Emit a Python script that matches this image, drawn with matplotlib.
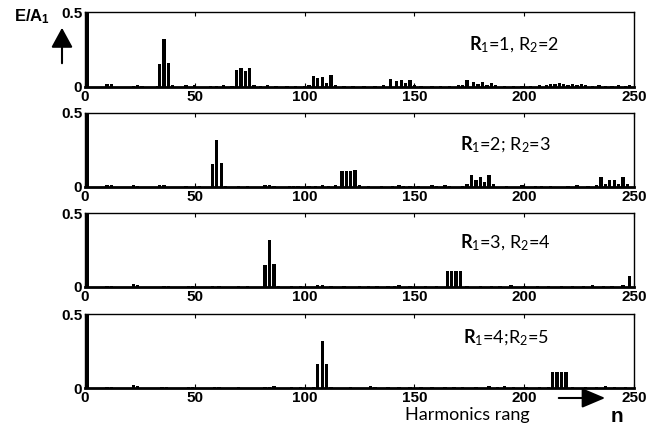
import matplotlib
matplotlib.use("Agg")
from matplotlib import pyplot as plt
from matplotlib.patches import FancyArrowPatch

# harmonic spectra E/A1 for four (R1, R2) pairs
p1_n = [1, 10, 12, 22, 24, 26, 33, 34, 36, 38, 40, 46, 50, 57, 60, 63, 67,
        69, 71, 73, 75, 77, 80, 83, 87, 92, 96, 100, 102, 104, 106, 108, 110,
        112, 114, 118, 122, 127, 132, 136, 139, 142, 144, 146, 148, 150, 153,
        158, 162, 166, 170, 172, 174, 177, 179, 181, 183, 185, 187, 191, 195,
        199, 203, 207, 210, 212, 214, 216, 218, 220, 222, 224, 226, 228, 231,
        234, 237, 240, 243, 246, 248]
p1_e = [0.5, 0.02, 0.02, 0.01, 0.012, 0.008, 0.01, 0.155, 0.32, 0.16, 0.012,
        0.015, 0.015, 0.008, 0.01, 0.012, 0.01,
        0.113, 0.125, 0.107, 0.125, 0.015, 0.01, 0.012, 0.01, 0.01, 0.008,
        0.01, 0.012, 0.075, 0.06, 0.065, 0.03, 0.08, 0.015, 0.01, 0.008, 0.01,
        0.01, 0.015, 0.055, 0.04, 0.045, 0.03, 0.05, 0.015, 0.01,
        0.008, 0.01, 0.008, 0.012, 0.015, 0.05, 0.035, 0.02, 0.035, 0.015,
        0.03, 0.012, 0.01, 0.008, 0.01, 0.008, 0.012, 0.015, 0.02, 0.02, 0.025,
        0.02, 0.015, 0.02, 0.015, 0.02, 0.012, 0.01, 0.012, 0.008, 0.01,
        0.012, 0.01, 0.015]

p2_n = [1, 10, 12, 22, 24, 34, 36, 46, 52, 58, 60, 62, 64, 70, 74, 82, 84,
        86, 93, 95, 97, 102, 105, 108, 111, 114, 117, 119, 121, 123, 125, 129,
        135, 140, 143, 145, 148, 152, 158, 160, 164, 166, 172, 174, 176, 178,
        180, 182, 184, 186, 192, 199, 205, 208, 212, 220, 224, 229, 233, 235,
        237, 239, 241, 243, 245, 247]
p2_e = [0.5, 0.012, 0.012, 0.012, 0.01, 0.012, 0.012, 0.01, 0.008, 0.157,
        0.32, 0.165, 0.01, 0.008, 0.008, 0.012, 0.012,
        0.01, 0.008, 0.008, 0.008, 0.01, 0.01, 0.012, 0.01, 0.015, 0.11, 0.11,
        0.105, 0.115, 0.012, 0.008, 0.01, 0.008, 0.012, 0.01, 0.01, 0.008,
        0.012, 0.01, 0.012, 0.008, 0.01, 0.02, 0.08, 0.045, 0.068, 0.036,
        0.08, 0.02, 0.008, 0.012, 0.008, 0.01, 0.008, 0.01, 0.012, 0.008,
        0.015, 0.068, 0.02, 0.045, 0.045, 0.02, 0.068, 0.02]

p3_n = [1, 10, 12, 22, 24, 36, 38, 47, 49, 58, 61, 70, 74, 82, 84, 86, 88,
        94, 98, 106, 108, 112, 118, 125, 129, 133, 138, 141, 143, 148, 155,
        160, 165, 167, 169, 171, 174, 180, 185, 189, 194, 200, 206, 211, 217,
        222, 227, 231, 236, 240, 245, 248]
p3_e = [0.5, 0.01, 0.01, 0.02, 0.015, 0.01, 0.01, 0.008, 0.01, 0.008, 0.01,
        0.008, 0.008, 0.15, 0.315, 0.157, 0.01,
        0.008, 0.008, 0.012, 0.015, 0.008, 0.01, 0.008, 0.01, 0.01, 0.008,
        0.01, 0.012, 0.008, 0.008, 0.01, 0.105, 0.105, 0.105, 0.105, 0.01,
        0.008, 0.01, 0.01, 0.012, 0.008, 0.01, 0.01, 0.008, 0.008, 0.01,
        0.012, 0.008, 0.01, 0.015, 0.072]

p4_n = [1, 10, 12, 22, 24, 35, 37, 47, 49, 59, 61, 70, 82, 84, 86, 94, 98,
        104, 106, 108, 110, 112, 121, 130, 132, 138, 143, 148, 153, 158, 164,
        168, 172, 178, 184, 188, 191, 195, 201, 207, 211, 213, 215, 217, 219,
        222, 228, 233, 237, 241, 246]
p4_e = [0.5, 0.01, 0.01, 0.02, 0.015, 0.01, 0.01, 0.008, 0.01, 0.01, 0.01,
        0.008, 0.01, 0.01, 0.015, 0.008, 0.008,
        0.01, 0.16, 0.315, 0.16, 0.01, 0.008, 0.012, 0.01, 0.008, 0.008, 0.01,
        0.008, 0.008, 0.01, 0.01, 0.008, 0.01, 0.012, 0.01, 0.012, 0.01,
        0.008, 0.01, 0.01, 0.105, 0.105, 0.105, 0.105, 0.01, 0.008, 0.01,
        0.012, 0.008, 0.01]

labels = [r"$\mathbf{R}_1$=1, R$_2$=2",
          r"$\mathbf{R}_1$=2; R$_2$=3",
          r"$\mathbf{R}_1$=3, R$_2$=4",
          r"$\mathbf{R}_1$=4;R$_2$=5"]
xticks = [0, 50, 100, 150, 200, 250]
yticks = [0, 0.5]
ytick_labels = ["0", "0.5"]

plt.rcParams['font.family'] = ['Liberation Sans', 'DejaVu Sans']
plt.rcParams['mathtext.fontset'] = 'custom'
plt.rcParams['mathtext.rm'] = 'Lato'
plt.rcParams['mathtext.bf'] = 'Lato:bold'
plt.rcParams['mathtext.it'] = 'Lato'

W, H = 661, 428
fig = plt.figure(figsize=(W / 100, H / 100), dpi=100)

# panel top/bottom pixel rows
rows = [(12, 87), (113, 187), (213, 287), (314, 388)]
label_pos = [(469, 45), (460, 145), (460, 243), (463, 338)]
spectra = [(p1_n, p1_e), (p2_n, p2_e), (p3_n, p3_e), (p4_n, p4_e)]

for (top, bot), (n, e), lab, (tx, ty) in zip(rows, spectra, labels, label_pos):
    ax = fig.add_axes([85 / W, 1 - bot / H, (634 - 85) / W, (bot - top) / H])
    ax.bar(n, e, width=1.5, color='black', align='center')
    ax.set_xlim(0, 250)
    ax.set_ylim(0, 0.5)
    ax.set_xticks(xticks)
    ax.set_yticks(yticks)
    ax.set_yticklabels(ytick_labels)
    ax.tick_params(direction='in', top=True, length=3, width=0.8,
                   labelsize=11, pad=2)
    for t in ax.get_xticklabels() + ax.get_yticklabels():
        t.set_fontweight('bold')
    for s in ax.spines.values():
        s.set_linewidth(1.0)
    ax.spines['bottom'].set_linewidth(2.0)
    fig.text(tx / W, 1 - ty / H, lab, fontsize=13, family='Lato',
             va='center', ha='left')

# y quantity with upward arrow
fig.text(14 / W, 1 - 17 / H, r"E/A$_\mathregular{1}$", fontsize=12,
         fontweight='bold', va='center', ha='left')
fig.add_artist(FancyArrowPatch(
    (62 / W, 1 - 66 / H), (62 / W, 1 - 25 / H), transform=fig.transFigure,
    arrowstyle='-|>,head_length=1.1,head_width=0.6', mutation_scale=11,
    lw=1.5, color='black'))

# x quantity with rightward arrow
fig.text(405 / W, 1 - 415 / H, "Harmonics rang", fontsize=13,
         family='Lato', va='center', ha='left')
fig.text(611 / W, 1 - 416 / H, "n", fontsize=15, fontweight='bold',
         va='center', ha='left')
fig.add_artist(FancyArrowPatch(
    (556 / W, 1 - 398 / H), (608 / W, 1 - 398 / H), transform=fig.transFigure,
    arrowstyle='-|>,head_length=1.3,head_width=0.55', mutation_scale=11,
    lw=1.5, color='black'))

fig.savefig("out.png", dpi=100)
